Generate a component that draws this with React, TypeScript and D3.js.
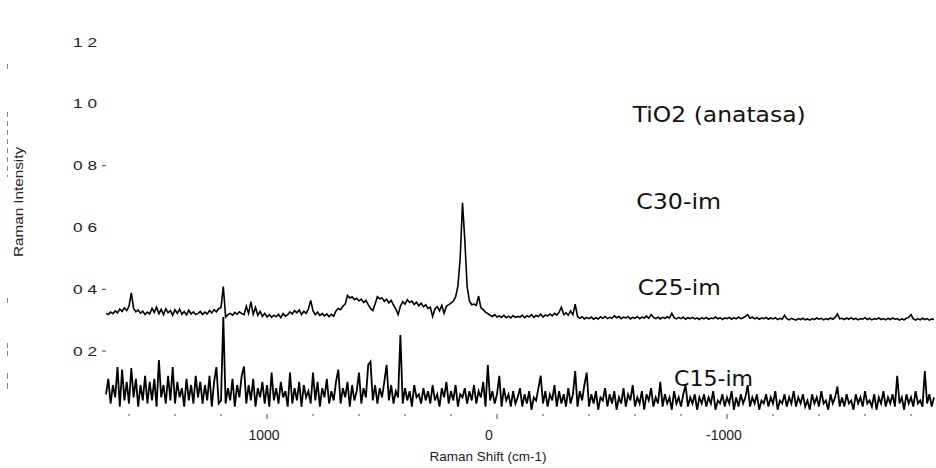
import * as d3 from 'd3';

// Raman shift grid (cm-1): first point and spacing of the recorded spectra
const SHIFT_START = 1700;
const SHIFT_STEP = 10;

// C25-im spectrum, one row per 200 cm-1 (1700 -> -1900)
const c25 = [
  0.322, 0.318, 0.326, 0.321, 0.33, 0.324, 0.336, 0.328, 0.34, 0.331, 0.345, 0.388, 0.338, 0.327, 0.333, 0.322, 0.329, 0.318, 0.326, 0.32,
  0.338, 0.325, 0.342, 0.321, 0.335, 0.318, 0.337, 0.324, 0.331, 0.316, 0.334, 0.322, 0.336, 0.319, 0.328, 0.317, 0.332, 0.32, 0.327, 0.318,
  0.322, 0.328, 0.318, 0.326, 0.32, 0.331, 0.323, 0.334, 0.327, 0.337, 0.341, 0.409, 0.31, 0.318, 0.322, 0.316, 0.325, 0.319, 0.327, 0.321,
  0.318, 0.345, 0.322, 0.36, 0.319, 0.341, 0.316, 0.328, 0.312, 0.322, 0.31, 0.318, 0.309, 0.316, 0.311, 0.319, 0.308, 0.321, 0.313, 0.318,
  0.327, 0.32, 0.331, 0.324, 0.333, 0.318, 0.329, 0.322, 0.336, 0.364, 0.33, 0.318, 0.326, 0.315, 0.322, 0.314, 0.32, 0.311, 0.319, 0.313,
  0.33, 0.338, 0.334, 0.345, 0.352, 0.38, 0.372, 0.376, 0.366, 0.371, 0.362, 0.368, 0.357, 0.364, 0.35, 0.338, 0.331, 0.352, 0.376, 0.369,
  0.372, 0.361, 0.368, 0.356, 0.364, 0.349, 0.336, 0.318, 0.345, 0.36, 0.352, 0.366, 0.357, 0.362, 0.351, 0.358, 0.347, 0.355, 0.343, 0.35,
  0.338, 0.342, 0.312, 0.336, 0.344, 0.33, 0.348, 0.322, 0.345, 0.35, 0.355, 0.362, 0.375, 0.41, 0.5, 0.68, 0.56, 0.41, 0.362, 0.35,
  0.352, 0.348, 0.378, 0.34, 0.334, 0.326, 0.321, 0.316, 0.312, 0.318, 0.31, 0.314, 0.309, 0.316, 0.308, 0.313, 0.307, 0.315, 0.309, 0.312,
  0.31, 0.316, 0.308, 0.314, 0.311, 0.318, 0.309, 0.315, 0.312, 0.319, 0.31, 0.317, 0.313, 0.32, 0.314, 0.322, 0.316, 0.326, 0.342, 0.318,
  0.324, 0.316, 0.33, 0.318, 0.352, 0.312, 0.306, 0.311, 0.304, 0.309, 0.305, 0.31, 0.303, 0.308, 0.304, 0.311, 0.306, 0.312, 0.305, 0.309,
  0.306, 0.314, 0.308, 0.312, 0.305, 0.31, 0.307, 0.311, 0.304, 0.309, 0.306, 0.312, 0.305, 0.31, 0.307, 0.313, 0.306, 0.318, 0.309, 0.305,
  0.31, 0.304, 0.309, 0.306, 0.311, 0.307, 0.322, 0.308, 0.304, 0.309, 0.305, 0.31, 0.303, 0.308, 0.305, 0.309, 0.304, 0.307, 0.302, 0.308,
  0.304, 0.309, 0.303, 0.307, 0.305, 0.31, 0.304, 0.308, 0.302, 0.307, 0.305, 0.309, 0.303, 0.308, 0.304, 0.31, 0.305, 0.308, 0.312, 0.318,
  0.306, 0.31, 0.304, 0.308, 0.303, 0.307, 0.305, 0.309, 0.303, 0.307, 0.304, 0.308, 0.302, 0.306, 0.303, 0.316, 0.305, 0.301, 0.306, 0.303,
  0.3, 0.305, 0.302, 0.306, 0.301, 0.304, 0.3, 0.305, 0.302, 0.307, 0.303, 0.306, 0.301, 0.305, 0.302, 0.307, 0.303, 0.309, 0.32, 0.304,
  0.306, 0.302, 0.307, 0.303, 0.308, 0.302, 0.306, 0.301, 0.305, 0.303, 0.308, 0.302, 0.306, 0.301, 0.305, 0.303, 0.307, 0.302, 0.305, 0.301,
  0.306, 0.302, 0.307, 0.303, 0.305, 0.3, 0.304, 0.301, 0.306, 0.309, 0.318, 0.304, 0.3, 0.305, 0.301, 0.306, 0.302, 0.305, 0.3, 0.304, 0.302,
];

// C15-im spectrum, same grid
const c15 = [
  0.06, 0.11, 0.03, 0.09, 0.05, 0.148, 0.02, 0.14, 0.04, 0.1, 0.03, 0.145, 0.05, 0.11, 0.02, 0.09, 0.04, 0.12, 0.03, 0.1,
  0.04, 0.11, 0.02, 0.171, 0.05, 0.09, 0.03, 0.12, 0.04, 0.148, 0.03, 0.1, 0.05, 0.08, 0.02, 0.11, 0.04, 0.09, 0.03, 0.12,
  0.05, 0.1, 0.03, 0.09, 0.04, 0.12, 0.02, 0.1, 0.148, 0.03, 0.04, 0.31, 0.03, 0.08, 0.04, 0.11, 0.02, 0.09, 0.05, 0.12,
  0.15, 0.03, 0.09, 0.04, 0.11, 0.02, 0.08, 0.05, 0.1, 0.03, 0.09, 0.02, 0.13, 0.04, 0.08, 0.03, 0.1, 0.05, 0.07, 0.02,
  0.13, 0.03, 0.08, 0.04, 0.1, 0.02, 0.09, 0.05, 0.07, 0.03, 0.13, 0.04, 0.1, 0.02, 0.08, 0.05, 0.11, 0.03, 0.07, 0.04,
  0.1, 0.14, 0.03, 0.08, 0.05, 0.1, 0.02, 0.09, 0.04, 0.07, 0.13, 0.03, 0.08, 0.05, 0.155, 0.165, 0.04, 0.09, 0.03, 0.08,
  0.05, 0.1, 0.155, 0.04, 0.09, 0.03, 0.07, 0.05, 0.252, 0.03, 0.08, 0.04, 0.07, 0.02, 0.09, 0.05, 0.06, 0.03, 0.08, 0.04,
  0.07, 0.03, 0.09, 0.04, 0.06, 0.02, 0.08, 0.05, 0.1, 0.03, 0.07, 0.04, 0.09, 0.02, 0.06, 0.05, 0.08, 0.03, 0.07, 0.04,
  0.09, 0.03, 0.07, 0.05, 0.1, 0.02, 0.155, 0.04, 0.07, 0.03, 0.06, 0.12, 0.02, 0.08, 0.04, 0.06, 0.02, 0.07, 0.03, 0.05,
  0.08, 0.02, 0.06, 0.03, 0.07, 0.01, 0.05, 0.04, 0.08, 0.12, 0.03, 0.07, 0.02, 0.06, 0.04, 0.09, 0.02, 0.07, 0.03, 0.06,
  0.02, 0.08, 0.03, 0.06, 0.135, 0.02, 0.07, 0.04, 0.09, 0.13, 0.02, 0.06, 0.03, 0.07, 0.01, 0.05, 0.04, 0.08, 0.02, 0.06,
  0.03, 0.07, 0.01, 0.05, 0.03, 0.08, 0.02, 0.06, 0.04, 0.09, 0.02, 0.05, 0.03, 0.07, 0.01, 0.06, 0.04, 0.08, 0.02, 0.05,
  0.03, 0.1, 0.02, 0.06, 0.03, 0.05, 0.01, 0.07, 0.03, 0.05, 0.02, 0.06, 0.09, 0.02, 0.05, 0.03, 0.06, 0.01, 0.05, 0.03,
  0.06, 0.02, 0.05, 0.03, 0.07, 0.01, 0.04, 0.03, 0.06, 0.02, 0.05, 0.03, 0.07, 0.01, 0.05, 0.02, 0.06, 0.03, 0.05, 0.09,
  0.02, 0.05, 0.03, 0.06, 0.01, 0.04, 0.03, 0.06, 0.02, 0.05, 0.03, 0.07, 0.01, 0.04, 0.03, 0.06, 0.02, 0.05, 0.03, 0.07,
  0.02, 0.05, 0.03, 0.06, 0.02, 0.04, 0.01, 0.06, 0.03, 0.05, 0.02, 0.07, 0.03, 0.04, 0.01, 0.06, 0.03, 0.05, 0.085, 0.02,
  0.05, 0.02, 0.06, 0.03, 0.04, 0.01, 0.06, 0.03, 0.05, 0.02, 0.07, 0.03, 0.04, 0.02, 0.06, 0.01, 0.05, 0.03, 0.07, 0.02,
  0.05, 0.03, 0.06, 0.02, 0.12, 0.03, 0.05, 0.01, 0.06, 0.03, 0.05, 0.02, 0.07, 0.03, 0.04, 0.02, 0.135, 0.03, 0.06, 0.02, 0.05,
];

const yTicks = [0.2, 0.4, 0.6, 0.8, 1.0, 1.2];
// only these y ticks still show their tick mark in the scan
const yTickMarks = [0.2, 0.4, 0.8];
const xMinorTicks = [1600, 1400, 1200, 1000, 800, 600, 400, 200, 0, -200, -400, -600, -800, -1000, -1200, -1400, -1600, -1800];
const xLabelTicks = [1000, 0, -1000];

// sample names written on the plot, placed at a shift / intensity
const sampleNames = ['TiO2 (anatasa)', 'C30-im', 'C25-im', 'C15-im'];
const sampleShift = [-590, -605, -612, -770];
const sampleLevel = [0.94, 0.66, 0.38, 0.087];
const sampleWidth = [173, 85, 83, 79];

const W = 936;
const H = 468;

export default function App() {
  const x = d3.scaleLinear().domain([1700, -1900]).range([106, 934]);
  const y = d3.scaleLinear().domain([0, 1.2]).range([412.8, 42.2]);

  const toPoints = (vals: number[]) =>
    vals.map((v, i) => [SHIFT_START - i * SHIFT_STEP, v] as [number, number]);

  const line = d3
    .line<[number, number]>()
    .x((d) => x(d[0]))
    .y((d) => y(d[1]));

  const tickFont = "'Liberation Sans', Arial, sans-serif";
  const noteFont = "'Comic Sans MS', 'DejaVu Sans', sans-serif";

  return (
    <svg
      width={W}
      height={H}
      style={{ position: 'absolute', left: 0, top: 0, background: '#fff' }}
    >
      <rect width={W} height={H} fill="#fff" />

      {/* faint scan marks along the left edge */}
      <g stroke="#888" strokeWidth={1}>
        <line x1={7.5} x2={7.5} y1={112} y2={177} strokeDasharray="5 4" />
        <line x1={7.5} x2={7.5} y1={64} y2={69} />
        <line x1={7.5} x2={7.5} y1={298} y2={303} />
        <line x1={7.5} x2={7.5} y1={343} y2={358} strokeDasharray="5 3" />
        <line x1={7.5} x2={7.5} y1={373} y2={393} strokeDasharray="6 4" />
      </g>

      {/* y axis ticks */}
      <g fontFamily={tickFont} fontSize={13} fill="#222">
        {yTicks.map((t) => (
          <g key={t}>
            {yTickMarks.includes(t) && (
              <line x1={102} x2={106} y1={y(t)} y2={y(t)} stroke="#444" />
            )}
            <text
              x={73}
              y={y(t) + 4.5}
              textLength={24}
              lengthAdjust="spacingAndGlyphs"
            >
              {t.toFixed(1).replace('.', ' ')}
            </text>
          </g>
        ))}
      </g>

      {/* x axis ticks */}
      <g stroke="#444">
        {xMinorTicks.map((t) => (
          <line key={t} x1={x(t)} x2={x(t)} y1={414} y2={xLabelTicks.includes(t) ? 419 : 416} />
        ))}
      </g>
      <g fontFamily={tickFont} fontSize={14} fill="#222" textAnchor="middle">
        {xLabelTicks.map((t) => (
          <text key={t} x={x(t) - (t === 0 ? 8 : 3)} y={440}>
            {t}
          </text>
        ))}
      </g>

      <text
        x={488}
        y={461}
        fontFamily={tickFont}
        fontSize={13.5}
        textAnchor="middle"
        fill="#222"
      >
        Raman Shift (cm-1)
      </text>
      <text
        transform="translate(23,202) rotate(-90)"
        fontFamily={tickFont}
        fontSize={13}
        textAnchor="middle"
        fill="#222"
        textLength={110}
        lengthAdjust="spacingAndGlyphs"
      >
        Raman Intensity
      </text>

      {/* spectra */}
      <path d={line(toPoints(c15)) ?? ''} fill="none" stroke="#000" strokeWidth={1.8} strokeLinejoin="miter" />
      <path d={line(toPoints(c25)) ?? ''} fill="none" stroke="#000" strokeWidth={1.6} />

      {/* sample labels */}
      <g fontFamily={noteFont} fontSize={21} fill="#111">
        {sampleNames.map((n, i) => (
          <text
            key={n}
            x={x(sampleShift[i])}
            y={y(sampleLevel[i])}
            textLength={sampleWidth[i]}
            lengthAdjust="spacingAndGlyphs"
          >
            {n}
          </text>
        ))}
      </g>
    </svg>
  );
}
